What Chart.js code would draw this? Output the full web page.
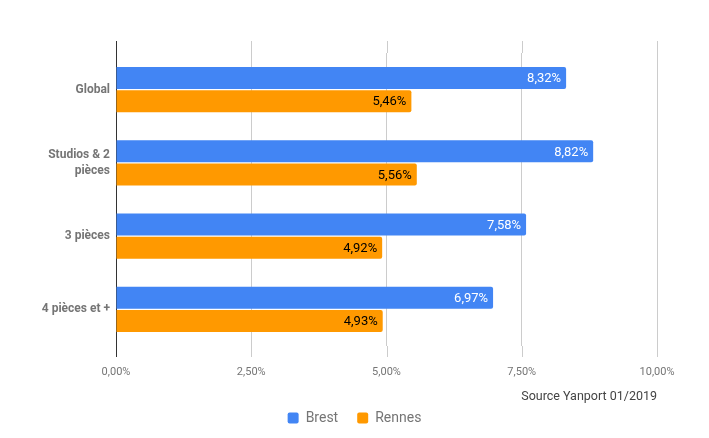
<!DOCTYPE html>
<html>
<head>
<meta charset="utf-8">
<script src="https://cdn.jsdelivr.net/npm/chart.js@4"></script>
<style>
  html, body { margin: 0; padding: 0; background: #fff; }
  #wrap { width: 709px; height: 438px; }
</style>
</head>
<body>
<div id="wrap"><canvas id="myChart"></canvas></div>
<script>
var categories = ['Global', ['Studios & 2', 'pièces'], '3 pièces', '4 pièces et +']
var brest = [8.32, 8.82, 7.58, 6.97]
var rennes = [5.46, 5.56, 4.92, 4.93]
var xTicks = [0, 2.5, 5, 7.5, 10]
var sourceText = 'Source Yanport 01/2019'

function pct(v) {
  return v.toFixed(2).replace('.', ',') + '%'
}

// grid lines poke out above and below the plot, like the original
var extendGrid = {
  id: 'extendGrid',
  beforeDatasetsDraw(chart) {
    var ctx = chart.ctx
    var area = chart.chartArea
    var x = chart.scales.x
    ctx.save()
    ctx.lineWidth = 1
    x.ticks.forEach(t => {
      var px = Math.round(x.getPixelForValue(t.value)) + 0.5
      ctx.strokeStyle = t.value === 0 ? '#333' : '#ccc'
      ctx.beginPath()
      ctx.moveTo(px, area.top - 12)
      ctx.lineTo(px, area.top)
      ctx.moveTo(px, area.bottom)
      ctx.lineTo(px, area.bottom + 11)
      ctx.stroke()
    })
    ctx.restore()
  },
  afterDatasetsDraw(chart) {
    var ctx = chart.ctx
    ctx.save()
    ctx.font = '13px Roboto'
    ctx.textAlign = 'right'
    ctx.textBaseline = 'middle'
    chart.data.datasets.forEach((ds, i) => {
      chart.getDatasetMeta(i).data.forEach((bar, j) => {
        ctx.fillStyle = i === 0 ? '#fff' : '#000'
        ctx.fillText(pct(ds.data[j]), bar.x - 5, bar.y + 1)
      })
    })
    var area = chart.chartArea
    ctx.font = '12.5px Roboto'
    ctx.fillStyle = '#444'
    ctx.fillText(sourceText, area.right, area.bottom + 51)
    ctx.restore()
  }
}

var ctx = document.getElementById('myChart').getContext('2d');
var chart = new Chart(ctx, {
  type: 'bar',
  data: {
    labels: categories,
    datasets: [{
      label: 'Brest',
      data: brest,
      backgroundColor: '#4285F4',
      borderRadius: 2,
      borderSkipped: 'start',
      categoryPercentage: 0.63,
      barPercentage: 0.956,
    }, {
      label: 'Rennes',
      data: rennes,
      backgroundColor: '#FF9900',
      borderRadius: 2,
      borderSkipped: 'start',
      categoryPercentage: 0.63,
      barPercentage: 0.956,
    }]
  },
  options: {
    indexAxis: 'y',
    responsive: true,
    maintainAspectRatio: false,
    animation: false,
    layout: { padding: { top: 53, right: 0, bottom: 3, left: 0 } },
    scales: {
      x: {
        min: 0,
        max: 10,
        afterBuildTicks(scale) {
          scale.ticks = xTicks.map(v => ({ value: v }))
        },
        afterFit(scale) { scale.height = 46 },
        border: { display: false },
        grid: {
          drawTicks: false,
          color: c => c.tick && c.tick.value === 0 ? '#333' : '#ccc',
        },
        ticks: {
          padding: 20,
          color: '#757575',
          font: { family: 'Roboto', size: 11 },
          callback: v => pct(v),
        }
      },
      y: {
        afterFit(scale) { scale.width = 116 },
        border: { display: false },
        grid: { display: false, drawTicks: false },
        ticks: {
          padding: 6,
          color: '#757575',
          font: { family: 'Roboto', size: 12, weight: 'bold', lineHeight: 1.35 },
        }
      },
      // empty right-hand spacer so the legend stays centred on the page
      yRight: {
        type: 'category',
        position: 'right',
        afterFit(scale) { scale.width = 52 },
        border: { display: false },
        grid: { display: false, drawTicks: false },
        ticks: { display: false }
      }
    },
    plugins: {
      legend: {
        position: 'bottom',
        labels: {
          boxWidth: 11,
          boxHeight: 11,
          useBorderRadius: true,
          borderRadius: 2,
          padding: 19,
          color: '#757575',
          font: { family: 'Roboto', size: 14 },
        }
      },
      tooltip: { enabled: false }
    }
  },
  plugins: [extendGrid]
});
</script>
</body>
</html>
